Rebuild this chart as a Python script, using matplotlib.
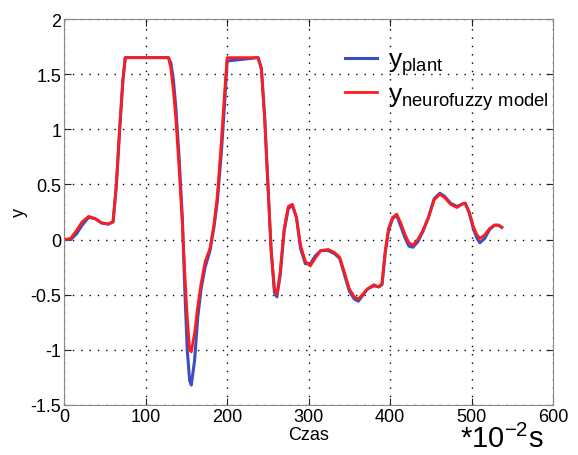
import matplotlib.pyplot as plt

plt.rcParams['font.family'] = ['Liberation Sans', 'DejaVu Sans']
plt.rcParams['mathtext.fontset'] = 'custom'
plt.rcParams['mathtext.rm'] = 'Liberation Sans'

# time samples (*10^-2 s)
czas = [0, 8, 15, 22, 30, 38, 46, 54, 60, 64, 68, 72, 75, 128, 131, 134, 137,
        141, 145, 148, 151, 154, 156, 160, 164, 168, 173, 179, 184, 188, 193,
        197, 200, 238, 242, 246, 250, 254, 258, 261, 265, 270, 275, 280, 285,
        290, 296, 302, 308, 315, 324, 332, 338, 344, 350, 356, 361, 366, 372,
        380, 386, 390, 394, 398, 403, 408, 413, 418, 423, 428, 434, 440, 447,
        454, 461, 467, 474, 482, 488, 492, 497, 502, 506, 510, 516, 522, 528,
        533, 537]

y_model = [0.0, 0.01, 0.08, 0.16, 0.21, 0.19, 0.15, 0.14, 0.16, 0.5, 1.0, 1.45,
           1.65, 1.65, 1.55, 1.35, 1.1, 0.65, 0.15, -0.3, -0.7, -1.0, -1.02,
           -0.85, -0.6, -0.4, -0.2, -0.08, 0.15, 0.4, 0.9, 1.35, 1.65, 1.65,
           1.55, 1.1, 0.5, -0.1, -0.45, -0.5, -0.3, 0.1, 0.3, 0.32, 0.2, -0.05,
           -0.2, -0.24, -0.17, -0.1, -0.09, -0.12, -0.16, -0.3, -0.45, -0.52,
           -0.54, -0.5, -0.45, -0.41, -0.43, -0.4, -0.1, 0.1, 0.2, 0.23, 0.15,
           0.05, -0.03, -0.05, 0.0, 0.08, 0.2, 0.36, 0.41, 0.38, 0.32, 0.29,
           0.32, 0.33, 0.25, 0.12, 0.05, 0.01, 0.04, 0.1, 0.13, 0.13, 0.11]

y_plant = [0.0, 0.0, 0.05, 0.13, 0.2, 0.19, 0.15, 0.14, 0.16, 0.48, 0.98, 1.43,
           1.65, 1.65, 1.6, 1.45, 1.2, 0.75, 0.2, -0.45, -1.0, -1.28, -1.32,
           -1.1, -0.7, -0.45, -0.25, -0.1, 0.12, 0.35, 0.8, 1.25, 1.62, 1.65,
           1.55, 1.12, 0.5, -0.1, -0.48, -0.52, -0.33, 0.08, 0.28, 0.31, 0.2,
           -0.08, -0.22, -0.22, -0.15, -0.1, -0.1, -0.13, -0.17, -0.32, -0.47,
           -0.54, -0.56, -0.51, -0.45, -0.42, -0.43, -0.41, -0.12, 0.08, 0.19,
           0.22, 0.12, 0.02, -0.06, -0.07, -0.02, 0.07, 0.2, 0.37, 0.42, 0.39,
           0.33, 0.3, 0.32, 0.33, 0.24, 0.1, 0.02, -0.03, 0.01, 0.09, 0.13,
           0.13, 0.11]

fig = plt.figure(figsize=(5.78, 4.56), dpi=100)
ax = fig.add_axes([0.111, 0.110, 0.846, 0.846])

ax.plot(czas, y_plant, color='#3b4fc2', lw=2.2, label=r'$\mathregular{y_{plant}}$')
ax.plot(czas, y_model, color='#ff1c1c', lw=2.0,
        label=r'$\mathregular{y_{neurofuzzy\ model}}$')

ax.set_xlim(0, 600)
ax.set_ylim(-1.5, 2)
ax.set_xticks([0, 100, 200, 300, 400, 500, 600])
ax.set_yticks([-1.5, -1, -0.5, 0, 0.5, 1, 1.5, 2])
ax.set_yticklabels(['-1.5', '-1', '-0.5', '0', '0.5', '1', '1.5', '2'])
ax.grid(True, color='k', linestyle=(0, (1, 5)), lw=1.0)
ax.tick_params(direction='in', top=True, right=True, labelsize=13, pad=2,
               length=5, color='#222222')
for s in ax.spines.values():
    s.set_color('#888888')

ax.set_xlabel('Czas', fontsize=13, labelpad=1)
ax.set_ylabel('y', fontsize=13, labelpad=2)

ax.text(0.81, -0.088, r'*10$^{\mathregular{-2}}$s', transform=ax.transAxes,
        fontsize=21, va='center', ha='left')

leg = ax.legend(loc='upper left', bbox_to_anchor=(0.575, 0.925), frameon=False,
                fontsize=19, handlelength=1.2, handletextpad=0.4,
                labelspacing=0.2, borderaxespad=0, borderpad=0)

fig.savefig('out.png')
